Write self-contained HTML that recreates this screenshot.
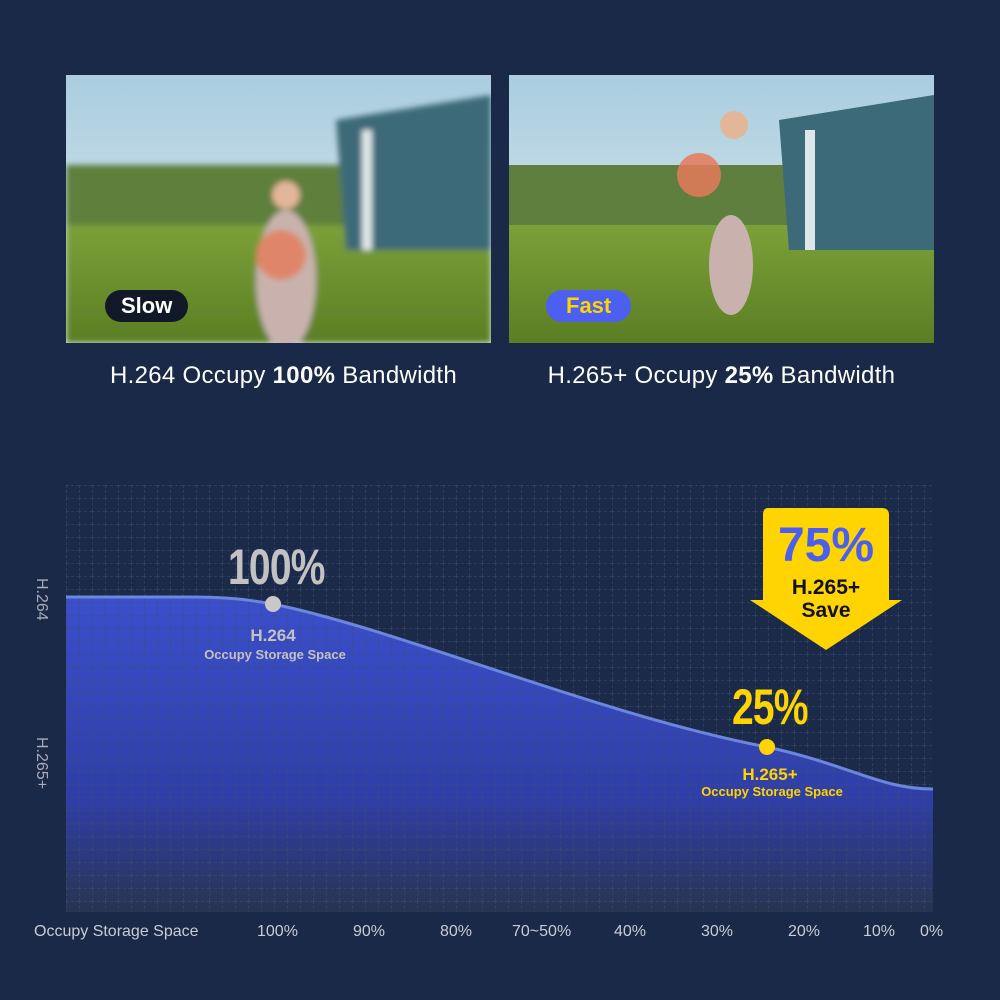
<!DOCTYPE html>
<html><head><meta charset="utf-8"><style>
body{margin:0;width:1000px;height:1000px;background:#1a2948;font-family:"Liberation Sans",sans-serif;position:relative;overflow:hidden}
.ph{position:absolute;top:75px;width:425px;height:268px;overflow:hidden}
.cap{position:absolute;top:362px;color:#fff;font-size:24px;width:425px;text-align:center;letter-spacing:.3px}
.t{position:absolute;white-space:nowrap}
.x{position:absolute;top:923px;color:#c8ccd6;font-size:16px;white-space:nowrap}
</style></head><body>
<div class="ph" style="left:66px">
<svg width="425" height="268"><defs><linearGradient id="sk" x1="0" y1="0" x2="0" y2="1"><stop offset="0" stop-color="#a9cde0"/><stop offset="1" stop-color="#e4ecec"/></linearGradient><linearGradient id="gr" x1="0" y1="0" x2="0" y2="1"><stop offset="0" stop-color="#7fa33a"/><stop offset="1" stop-color="#5b7e24"/></linearGradient><filter id="b"><feGaussianBlur stdDeviation="3"/></filter></defs>
<rect width="425" height="268" fill="url(#sk)"/>
<g filter="url(#b)"><rect y="140" width="425" height="128" fill="url(#gr)"/><rect x="0" y="90" width="300" height="60" fill="#5f7f3e"/>
<polygon points="270,45 425,20 425,175 280,175" fill="#3c6a78"/><rect x="296" y="55" width="10" height="120" fill="#dfe6e8"/>
<ellipse cx="220" cy="205" rx="30" ry="70" fill="#c9b2ae"/><circle cx="220" cy="120" r="14" fill="#e3b69a"/><circle cx="215" cy="180" r="25" fill="#e57a5a" opacity=".8"/></g></svg>
<div class="t" style="left:39px;top:215px;background:#111827;color:#fff;font-weight:bold;font-size:22px;padding:3px 16px;border-radius:18px">Slow</div></div>
<div class="ph" style="left:509px">
<svg width="425" height="268"><rect width="425" height="268" fill="url(#sk)"/>
<rect y="140" width="425" height="128" fill="url(#gr)"/><rect x="0" y="90" width="300" height="60" fill="#5f7f3e"/>
<polygon points="270,45 425,20 425,175 280,175" fill="#3c6a78"/><rect x="296" y="55" width="10" height="120" fill="#dfe6e8"/>
<ellipse cx="222" cy="190" rx="22" ry="50" fill="#c9b2ae"/><circle cx="225" cy="50" r="14" fill="#e3b69a"/><circle cx="190" cy="100" r="22" fill="#e57a5a" opacity=".85"/></svg>
<div class="t" style="left:37px;top:215px;background:#4b5ff0;color:#ffd400;font-weight:bold;font-size:22px;padding:3px 20px;border-radius:18px">Fast</div></div>
<div class="cap" style="left:71px">H.264 Occupy <b>100%</b> Bandwidth</div>
<div class="cap" style="left:509px">H.265+ Occupy <b>25%</b> Bandwidth</div>

<svg class="t" style="left:0;top:0" width="1000" height="1000">
<defs><pattern id="g" width="13" height="13" patternUnits="userSpaceOnUse" x="66" y="485"><path d="M0 0H13M0 0V13" stroke="#3e4e70" stroke-width="1" stroke-dasharray="3 2" fill="none"/></pattern>
<linearGradient id="f" x1="0" y1="0" x2="0" y2="1"><stop offset="0" stop-color="#3b4fcc"/><stop offset=".65" stop-color="#2f3ea6"/><stop offset="1" stop-color="#283450"/></linearGradient></defs>
<rect x="66" y="485" width="867" height="427" fill="#1c2a4a"/>
<path d="M66 597H190C230 597 250 600 273 604C400 630 600 715 767 747C850 765 880 789 933 789V912H66Z" fill="url(#f)"/>
<rect x="66" y="485" width="867" height="427" fill="url(#g)"/>
<path d="M66 597H190C230 597 250 600 273 604C400 630 600 715 767 747C850 765 880 789 933 789" stroke="#6a86dd" stroke-width="3" fill="none"/>
<circle cx="273" cy="604" r="8" fill="#c8c8c8"/><circle cx="767" cy="747" r="8" fill="#ffd400"/>
<path d="M768 508H882Q889 508 889 515V600H902L826 650L750 600H763V515Q763 508 768 508Z" fill="#ffd400"/>
</svg>
<div class="t" style="left:228px;top:538px;color:#c2c2c2;font-size:50px;font-weight:bold;transform:scaleX(.78);transform-origin:left;letter-spacing:-1px">100%</div>
<div class="t" style="left:198px;top:626px;width:150px;text-align:center;color:#c2c2c2;font-weight:bold;font-size:17px">H.264</div>
<div class="t" style="left:190px;top:647px;width:170px;text-align:center;color:#c2c2c2;font-weight:bold;font-size:13px">Occupy Storage Space</div>
<div class="t" style="left:732px;top:678px;color:#ffd400;font-size:50px;font-weight:bold;transform:scaleX(.78);transform-origin:left;letter-spacing:-1px">25%</div>
<div class="t" style="left:695px;top:765px;width:150px;text-align:center;color:#ffd400;font-weight:bold;font-size:17px">H.265+</div>
<div class="t" style="left:687px;top:784px;width:170px;text-align:center;color:#ffd400;font-weight:bold;font-size:13px">Occupy Storage Space</div>
<div class="t" style="left:764px;top:520px;width:124px;text-align:center;color:#4a5ff0;font-weight:bold;font-size:48px;line-height:52px">75%</div>
<div class="t" style="left:764px;top:576px;width:124px;text-align:center;color:#111;font-weight:bold;font-size:21px;line-height:23px">H.265+<br>Save</div>
<div class="t" style="left:50px;top:578px;color:#aab;font-size:16px;transform:rotate(90deg);transform-origin:left top">H.264</div>
<div class="t" style="left:50px;top:737px;color:#aab;font-size:16px;transform:rotate(90deg);transform-origin:left top">H.265+</div>
<div class="x" style="left:34px">Occupy Storage Space</div>
<div class="x" style="left:257px">100%</div>
<div class="x" style="left:353px">90%</div>
<div class="x" style="left:440px">80%</div>
<div class="x" style="left:512px">70~50%</div>
<div class="x" style="left:614px">40%</div>
<div class="x" style="left:701px">30%</div>
<div class="x" style="left:788px">20%</div>
<div class="x" style="left:863px">10%</div>
<div class="x" style="left:920px">0%</div>
</body></html>
